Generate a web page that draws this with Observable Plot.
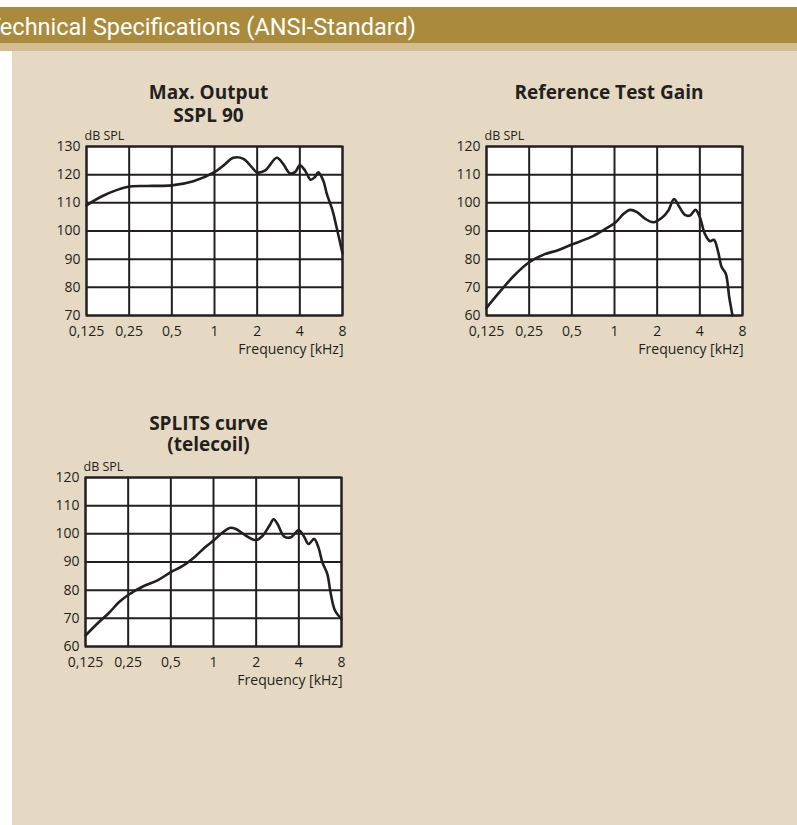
<!DOCTYPE html>
<html>
<head>
<meta charset="utf-8">
<script src="https://cdn.jsdelivr.net/npm/d3@7"></script>
<script src="https://cdn.jsdelivr.net/npm/@observablehq/plot@0.6"></script>
<style>
  html { margin: 0; padding: 0; background: #e5d9c3; overflow: hidden; scrollbar-width: none; }
  body { margin: 0; padding: 0; width: 100%; min-width: 797px; height: 825px; position: relative; font-family: "Open Sans", sans-serif; color: #231f20; background: transparent; }
  .abs { position: absolute; }
  #topWhite { left: 0; top: 0; width: 1200px; height: 7px; background: #ffffff; }
  #leftWhite { left: 0; top: 51px; width: 12px; height: 900px; background: #ffffff; }
  #header { left: 0; top: 7px; width: 1200px; height: 36px; background: #aa8b3e; overflow: hidden; }
  #headerText { position: absolute; top: 5px; white-space: nowrap; color: #ffffff; font-family: Roboto, sans-serif; font-size: 23.5px; line-height: 30px; }
  #strip { left: 0; top: 43px; width: 1200px; height: 8px; background: #d3be91; }
  .title { position: absolute; width: 300px; text-align: center; font-weight: 700; font-size: 19px; white-space: nowrap; }
  .chart { position: absolute; }
</style>
</head>
<body>
<div id="topWhite" class="abs"></div>
<div id="leftWhite" class="abs"></div>
<div id="header" class="abs"><div id="headerText">Technical Specifications (ANSI-Standard)</div></div>
<div id="strip" class="abs"></div>
<script>
// ---- data ----
const freqTicks = [0.125, 0.25, 0.5, 1, 2, 4, 8];
const freqTickLabels = ["0,125", "0,25", "0,5", "1", "2", "4", "8"];

const maxOutTitle = ["Max. Output", "SSPL 90"];
const maxOutTicks = [70, 80, 90, 100, 110, 120, 130];
const maxOutFreq = [0.125, 0.165, 0.242, 0.33, 0.5, 0.71, 1.0, 1.16, 1.36, 1.6, 1.83, 2.0, 2.28, 2.75, 3.05, 3.4, 3.7, 4.0, 4.35, 4.77, 5.1, 5.4, 5.85, 6.2, 6.8, 7.26, 8.0];
const maxOutDb   = [109.1, 112.6, 115.6, 116.0, 116.2, 117.7, 120.9, 123.3, 126.0, 125.6, 122.7, 120.8, 121.5, 126.0, 123.8, 120.5, 120.9, 123.3, 121.5, 118.2, 119.1, 120.8, 117.9, 113.2, 107.3, 101.4, 92.1];

const rtgTitle = ["Reference Test Gain"];
const rtgTicks = [60, 70, 80, 90, 100, 110, 120];
const rtgFreq = [0.125, 0.158, 0.196, 0.25, 0.319, 0.395, 0.5, 0.68, 0.84, 1.02, 1.16, 1.29, 1.44, 1.65, 1.88, 2.16, 2.4, 2.63, 2.87, 3.14, 3.41, 3.73, 4.0, 4.34, 4.72, 5.03, 5.39, 5.7, 6.1, 6.45, 6.8];
const rtgDb   = [62.7, 68.9, 74.2, 78.9, 81.7, 83.1, 85.2, 87.8, 90.4, 93.1, 96.1, 97.5, 96.7, 94.3, 93.1, 94.7, 97.3, 101.3, 98.5, 95.7, 95.5, 97.5, 94.9, 89.0, 86.4, 86.9, 82.5, 77.2, 74.8, 66.5, 60.0];

const splitsTitle = ["SPLITS curve", "(telecoil)"];
const splitsTicks = [60, 70, 80, 90, 100, 110, 120];
const splitsFreq = [0.125, 0.155, 0.182, 0.215, 0.25, 0.32, 0.4, 0.5, 0.61, 0.74, 0.89, 1.0, 1.13, 1.3, 1.44, 1.7, 2.0, 2.22, 2.48, 2.66, 2.83, 3.16, 3.52, 4.0, 4.36, 4.68, 5.13, 5.5, 5.86, 6.35, 6.72, 7.2, 8.0];
const splitsDb   = [63.9, 68.6, 71.8, 75.7, 78.3, 81.4, 83.4, 86.4, 88.7, 91.9, 95.6, 97.6, 100.0, 102.1, 101.7, 99.3, 97.8, 99.3, 102.9, 105.2, 103.5, 99.0, 98.8, 101.3, 99.0, 96.4, 98.2, 95.2, 89.9, 85.8, 78.7, 72.8, 69.8];

const yAxisLabel = "dB SPL";
const xAxisLabel = "Frequency [kHz]";

// ---- drawing ----
const ink = "#231f20";

// header text: first letter cut off by the left edge
(function () {
  const el = document.getElementById("headerText");
  const c = document.createElement("canvas").getContext("2d");
  c.font = "23.5px Roboto";
  const w = c.measureText("T").width;
  el.style.left = (-w + 1) + "px";
})();

function makeChart(freq, db, ticks) {
  const data = freq.map((f, i) => ({f, v: db[i]}));
  return Plot.plot({
    width: 301,
    height: 239,
    marginLeft: 40,
    marginRight: 5,
    marginTop: 30,
    marginBottom: 40,
    style: {background: "transparent", fontFamily: "'Open Sans', sans-serif", fontSize: "14px", color: ink, overflow: "visible"},
    x: {type: "log", base: 2, domain: [0.125, 8]},
    y: {domain: [ticks[0], ticks[ticks.length - 1]]},
    marks: [
      Plot.frame({fill: "white", stroke: null}),
      Plot.ruleX(freqTicks, {x: d => d, stroke: ink, strokeWidth: 2}),
      Plot.ruleY(ticks, {y: d => d, stroke: ink, strokeWidth: 2}),
      Plot.frame({stroke: ink, strokeWidth: 2}),
      Plot.line(data, {x: "f", y: "v", curve: "catmull-rom", stroke: ink, strokeWidth: 2.6}),
      Plot.axisX(freqTicks, {tickSize: 0, tickPadding: 11, tickFormat: d => freqTickLabels[freqTicks.indexOf(d)], label: null, fontSize: 14}),
      Plot.axisY(ticks, {tickSize: 0, tickPadding: 6, label: null, fontSize: 14}),
      Plot.text([yAxisLabel], {frameAnchor: "top-left", textAnchor: "start", lineAnchor: "bottom", dx: -2, dy: -7, fontSize: 12.5, fill: ink}),
      Plot.text([xAxisLabel], {frameAnchor: "bottom-right", textAnchor: "end", lineAnchor: "middle", dx: 1, dy: 34, fontSize: 14, fill: ink})
    ]
  });
}

function place(node, left, top) {
  node.classList.add("chart");
  node.style.left = left + "px";
  node.style.top = top + "px";
  document.body.appendChild(node);
}

// one box per title line; line-height equals the spacing of the baselines
function addTitle(lines, centerX, firstBaseline, lineHeight) {
  const fs = 19;
  // Open Sans: ascent 1.069em, descent 0.293em
  const offset = (lineHeight - 1.362 * fs) / 2 + 1.069 * fs;
  lines.forEach((t, i) => {
    const d = document.createElement("div");
    d.className = "title";
    d.textContent = t;
    d.style.lineHeight = lineHeight + "px";
    d.style.height = lineHeight + "px";
    d.style.left = (centerX - 150) + "px";
    d.style.top = (firstBaseline + i * lineHeight - offset) + "px";
    document.body.appendChild(d);
  });
}

place(makeChart(maxOutFreq, maxOutDb, maxOutTicks), 46, 116);
place(makeChart(rtgFreq, rtgDb, rtgTicks), 446, 116);
place(makeChart(splitsFreq, splitsDb, splitsTicks), 45, 447);

addTitle(maxOutTitle, 208.5, 99.5, 23);
addTitle(rtgTitle, 609, 99.5, 23);
addTitle(splitsTitle, 208.5, 431, 20.5);
</script>
</body>
</html>
